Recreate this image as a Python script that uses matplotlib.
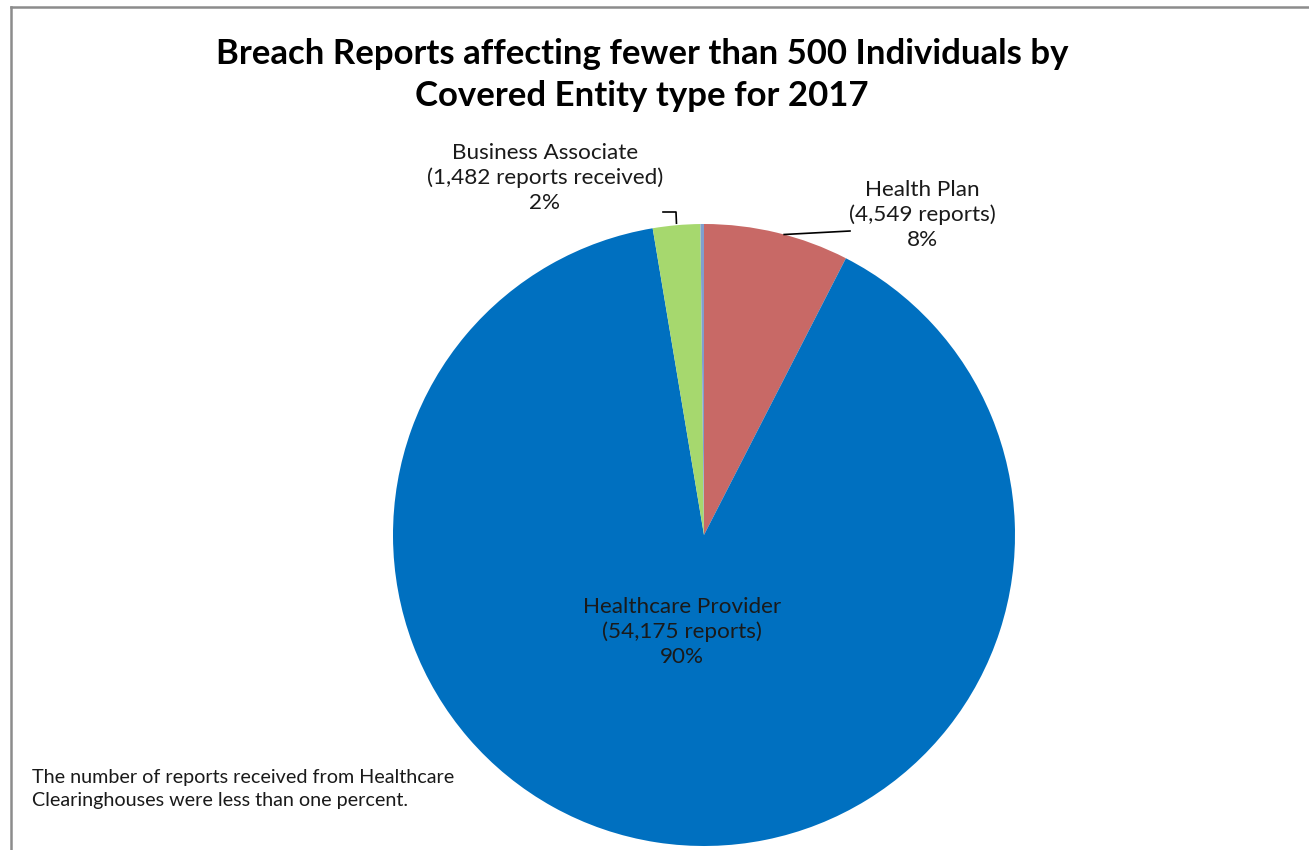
import numpy as np
import matplotlib.pyplot as plt

# Breach reports (<500 individuals) by covered entity type, 2017
entities = ["Health Plan", "Healthcare Provider", "Business Associate", "Healthcare Clearinghouse"]
reports = [4549, 54175, 1482, 110]
label_texts = [
    "Health Plan\n(4,549 reports)\n8%",
    "Healthcare Provider\n(54,175 reports)\n90%",
    "Business Associate\n(1,482 reports received)\n2%",
    "",
]
colors = ["#C86966", "#0070C0", "#A6D86E", "#7F9FCF"]

title = "Breach Reports affecting fewer than 500 Individuals by\nCovered Entity type for 2017"
note = "The number of reports received from Healthcare\nClearinghouses were less than one percent."

W, H = 1309, 850
plt.rcParams["font.family"] = ["Lato", "DejaVu Sans"]

fig = plt.figure(figsize=(W / 100, H / 100), dpi=100)
ax = fig.add_axes([0, 0, 1, 1])

cx, cy, r = 704, H - 535, 311
wedges, _ = ax.pie(reports, colors=colors, startangle=90, counterclock=False,
                   center=(cx, cy), radius=r, frame=True,
                   wedgeprops=dict(linewidth=0))
ax.set_xlim(0, W)
ax.set_ylim(0, H)
ax.set_aspect("equal")
ax.axis("off")

fs = 16.2
# Health Plan label with leader line
ax.text(922, H - 215, label_texts[0], ha="center", va="center", fontsize=fs,
        linespacing=1.28, color="#1a1a1a")
w = wedges[0]
ang = np.deg2rad(w.theta1 + (w.theta2 - w.theta1) * 0.45)
ax.plot([cx + r * np.cos(ang), 850], [cy + r * np.sin(ang), H - 231],
        color="black", lw=1.2)

# Healthcare Provider label inside
ax.text(682, H - 632, label_texts[1], ha="center", va="center", fontsize=fs,
        linespacing=1.28, color="#1a1a1a")

# Business Associate label with bent leader line
ax.text(545, H - 178, label_texts[2], ha="center", va="center", fontsize=fs,
        linespacing=1.28, color="#1a1a1a")
w = wedges[2]
ang = np.deg2rad((w.theta1 + w.theta2) / 2)
ax.plot([663, 676, cx + r * np.cos(ang)], [H - 212, H - 212, cy + r * np.sin(ang) + 2],
        color="black", lw=1.2)

ax.text(642, H - 75, title, ha="center", va="center", fontsize=25,
        fontweight="bold", linespacing=1.36)
ax.text(32, H - 789, note, ha="left", va="center", fontsize=14.2,
        linespacing=1.4, color="#1a1a1a")

# chart frame (only top and left edges visible)
ax.plot([11, W], [H - 7, H - 7], color="#8c8c8c", lw=1.8, clip_on=False)
ax.plot([11, 11], [H - 7, 0], color="#8c8c8c", lw=1.8, clip_on=False)

fig.savefig("out.png", dpi=100)
